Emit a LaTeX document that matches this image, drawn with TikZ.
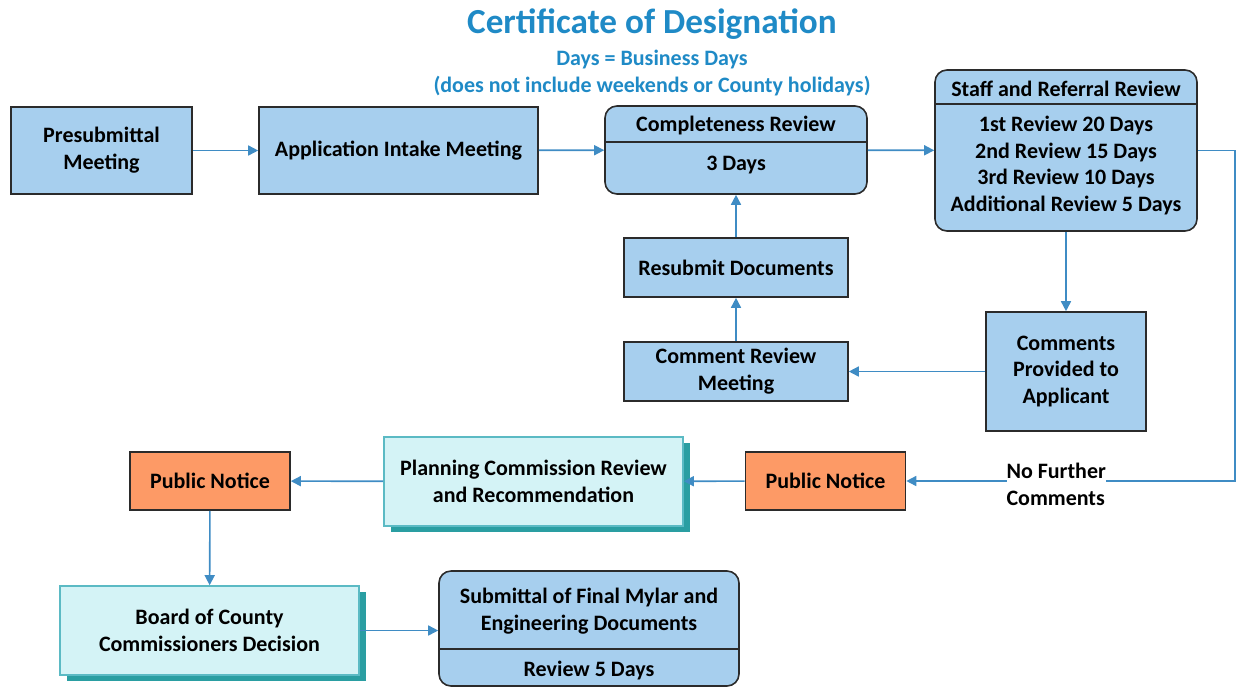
\documentclass[tikz,border=0pt]{standalone}
\usepackage{fontspec}
\setmainfont{Carlito}
\usetikzlibrary{arrows.meta, positioning, shadows}
\definecolor{boxblue}{HTML}{A7CFEE}
\definecolor{boxedge}{HTML}{2B2B2B}
\definecolor{noticeorange}{HTML}{FD9A66}
\definecolor{lightcyan}{HTML}{D4F3F6}
\definecolor{cyanedge}{HTML}{5BBAC4}
\definecolor{shadowteal}{HTML}{2A9EA2}
\definecolor{flowblue}{HTML}{3F8CC4}
\definecolor{titleblue}{HTML}{1F8AC6}
\tikzset{
    every node/.style={font=\bfseries\fontsize{11}{13.4}\selectfont, align=center},
    stepnode/.style={rectangle, draw=boxedge, fill=boxblue, line width=0.8pt, inner sep=2pt},
    roundnode/.style={rectangle, draw=boxedge, fill=boxblue, line width=0.8pt, rounded corners=6pt, inner sep=0pt},
    noticenode/.style={rectangle, draw=boxedge, fill=noticeorange, line width=0.8pt, minimum width=80pt, minimum height=29pt},
    meetingnode/.style={rectangle, draw=cyanedge, fill=lightcyan, line width=0.8pt, minimum width=149.5pt, minimum height=44.5pt,
        drop shadow={shadow xshift=3.5pt, shadow yshift=-3pt, fill=shadowteal, opacity=1}},
    plaintext/.style={inner sep=0pt},
    flow/.style={draw=flowblue, line width=0.8pt, -{Triangle[length=5pt, width=5pt]}}
}
\begin{document}
\begin{tikzpicture}[x=0.5pt, y=-0.5pt]
  \useasboundingbox (0,0) rectangle (1236,687);
  \node[plaintext, text=titleblue, font=\bfseries\fontsize{17.6}{20}\selectfont] (title) at (652,24) {Certificate of Designation};
  \node[plaintext, text=titleblue] (sub1) at (652,60) {Days = Business Days};
  \node[plaintext, text=titleblue] (sub2) at (652,86) {(does not include weekends or County holidays)};
  \node[stepnode, minimum width=90.5pt, minimum height=43.5pt] (presub) at (101.5,150.5) {Presubmittal\\Meeting};
  \node[stepnode, minimum width=139.5pt, minimum height=43.5pt] (intake) at (398.5,150.5) {Application Intake Meeting};
  \node[roundnode, minimum width=131pt, minimum height=44pt] (complete) at (736,150) {};
  \node[plaintext] (completehead) at (736,126) {Completeness Review};
  \node[plaintext] (completedays) at (736,165) {3 Days};
  \draw[draw=boxedge, line width=0.8pt] (complete.west |- 0,142) -- (complete.east |- 0,142);
  \node[roundnode, minimum width=131pt, minimum height=80.5pt] (staff) at (1066,150.5) {};
  \node[plaintext] (staffhead) at (1066,89) {Staff and Referral Review};
  \node[plaintext] (staffdays) at (1066,165.5) {1st Review 20 Days\\2nd Review 15 Days\\3rd Review 10 Days\\Additional Review 5 Days};
  \draw[draw=boxedge, line width=0.8pt] (staff.west |- 0,104) -- (staff.east |- 0,104);
  \node[stepnode, minimum width=112pt, minimum height=29.5pt] (resubmit) at (736,267.5) {Resubmit Documents};
  \node[stepnode, minimum width=112pt, minimum height=29.5pt] (commentmeet) at (736,371.5) {Comment Review\\Meeting};
  \node[stepnode, minimum width=80pt, minimum height=59.5pt] (comments) at (1066,371.5) {Comments\\Provided to\\Applicant};
  \node[noticenode] (noticeright) at (825.5,481) {Public Notice};
  \node[meetingnode] (planning) at (533.5,481.5) {Planning Commission Review\\and Recommendation};
  \node[noticenode] (noticeleft) at (210,481) {Public Notice};
  \node[meetingnode] (board) at (209.5,630.5) {Board of County\\Commissioners Decision};
  \node[roundnode, minimum width=150pt, minimum height=57.5pt] (mylar) at (589,628.5) {};
  \node[plaintext] (mylarhead) at (589,611.5) {Submittal of Final Mylar and\\Engineering Documents};
  \node[plaintext] (mylardays) at (589,670) {Review 5 Days};
  \draw[draw=boxedge, line width=0.8pt] (mylar.west |- 0,649) -- (mylar.east |- 0,649);
  \coordinate (bend) at (1235,150.5);
  \draw[flow] (presub) -- (intake);
  \draw[flow] (intake) -- (complete);
  \draw[flow] (complete) -- (staff);
  \draw[flow] (staff) -- (comments);
  \draw[flow] (comments) -- (commentmeet);
  \draw[flow] (commentmeet) -- (resubmit);
  \draw[flow] (resubmit) -- (complete);
  \draw[flow] (staff.east) -- (bend) |- (noticeright.east) node[pos=0.772, fill=white, inner sep=0pt, align=left, yshift=-1.5pt] (nofurther) {No Further\\Comments};
  \draw[flow] (noticeright) -- (planning);
  \draw[flow] (planning) -- (noticeleft);
  \draw[flow] (noticeleft) -- (board);
  \draw[flow] (board) -- (mylar.west |- board);
\end{tikzpicture}
\end{document}
